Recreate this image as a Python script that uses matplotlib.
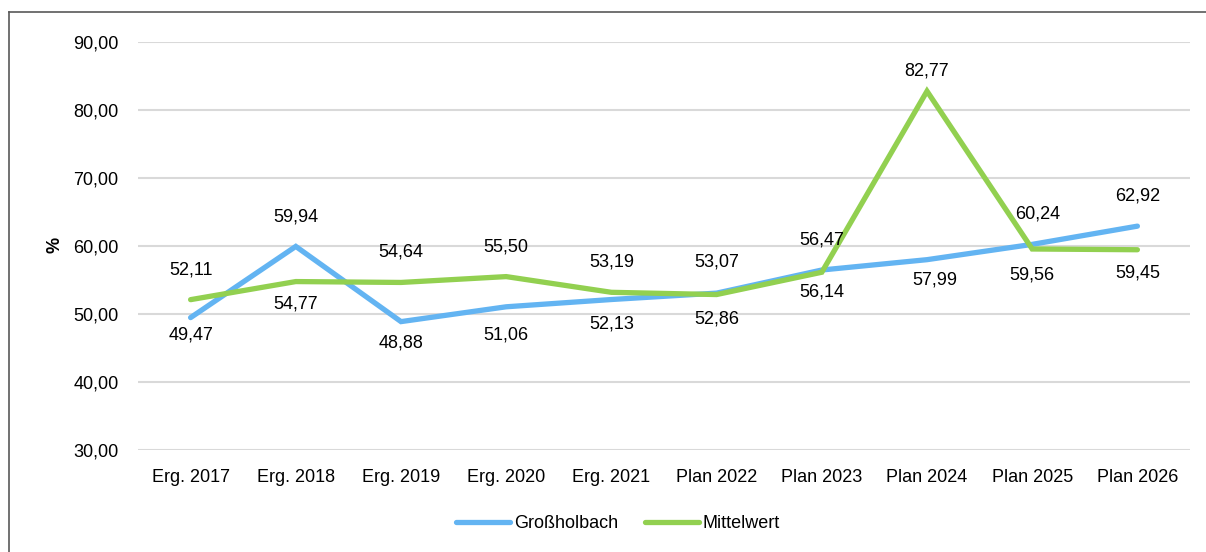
import matplotlib
matplotlib.use("Agg")
import matplotlib.pyplot as plt
from matplotlib.lines import Line2D
from matplotlib.font_manager import fontManager

categories = ["Erg. 2017", "Erg. 2018", "Erg. 2019", "Erg. 2020", "Erg. 2021",
              "Plan 2022", "Plan 2023", "Plan 2024", "Plan 2025", "Plan 2026"]
grossholbach = [49.47, 59.94, 48.88, 51.06, 52.13, 53.07, 56.47, 57.99, 60.24, 62.92]
mittelwert = [52.11, 54.77, 54.64, 55.50, 53.19, 52.86, 56.14, 82.77, 59.56, 59.45]
yticks = [30, 40, 50, 60, 70, 80, 90]

# label offsets in pixels (negative = above)
blue_dy = [17, -29, 21, 28, 24, -31, -30, 20, -30, -30]
blue_dx = [0, 0, 0, 0, 0, 0, 0, 8, 5, 0]
green_dy = [-30, 22, -30, -30, -30, 24, 20, -20, 26, 23]
green_dx = [0, 0, 0, 0, 0, 0, 0, 0, 0, 0]

fam = "Liberation Sans"
fs = 13
plt.rcParams["font.family"] = [fam, "DejaVu Sans"]

W, H = 1206, 552
fig = plt.figure(figsize=(W / 100, H / 100), dpi=100)
ax = fig.add_axes([138 / W, 1 - 450 / H, (1190 - 138) / W, (450 - 42) / H])

BLUE = "#63B4F2"
GREEN = "#92D050"
x = list(range(len(categories)))
ax.plot(x, grossholbach, color=BLUE, lw=3.8, solid_capstyle="round", solid_joinstyle="miter", zorder=3)
ax.plot(x, mittelwert, color=GREEN, lw=3.8, solid_capstyle="round", solid_joinstyle="miter", zorder=4)

def fmt(v):
    return f"{v:.2f}".replace(".", ",")

for i, v in enumerate(grossholbach):
    ax.annotate(fmt(v), (i, v), xytext=(blue_dx[i], -blue_dy[i]), textcoords="offset pixels",
                ha="center", va="center", fontsize=fs, color="#000000", zorder=5)
for i, v in enumerate(mittelwert):
    ax.annotate(fmt(v), (i, v), xytext=(green_dx[i], -green_dy[i]), textcoords="offset pixels",
                ha="center", va="center", fontsize=fs, color="#000000", zorder=5)

ax.set_xlim(-0.5, len(categories) - 0.5)
ax.set_ylim(30, 90)
ax.set_yticks(yticks)
ax.set_yticklabels([f"{t:.2f}".replace(".", ",") for t in yticks], fontsize=fs)
ax.set_xticks(x)
ax.set_xticklabels(categories, fontsize=fs)
ax.tick_params(axis="both", length=0)
ax.tick_params(axis="y", pad=14)
ax.tick_params(axis="x", pad=14)
ax.grid(axis="y", color="#D9D9D9", lw=1.5)
ax.set_axisbelow(True)
for s in ax.spines.values():
    s.set_visible(False)

fig.text(55 / W, 1 - 245 / H, "%", rotation=90, ha="center", va="center", fontsize=fs, fontweight="bold")

handles = [Line2D([], [], color=BLUE, lw=3.8, solid_capstyle="round"),
           Line2D([], [], color=GREEN, lw=3.8, solid_capstyle="round")]
fig.legend(handles, ["Großholbach", "Mittelwert"], loc="center", bbox_to_anchor=(618 / W, 1 - 524 / H),
           ncol=2, frameon=False, fontsize=fs, handlelength=3.0, handletextpad=0.2, columnspacing=1.5)

# outer frame (left and top edges)
fig.add_artist(Line2D([9 / W, 9 / W], [0, 1 - 12 / H], color="#595959", lw=1.2, transform=fig.transFigure))
fig.add_artist(Line2D([9 / W, 1], [1 - 12 / H, 1 - 12 / H], color="#595959", lw=1.2, transform=fig.transFigure))

fig.savefig("out.png", dpi=100)
